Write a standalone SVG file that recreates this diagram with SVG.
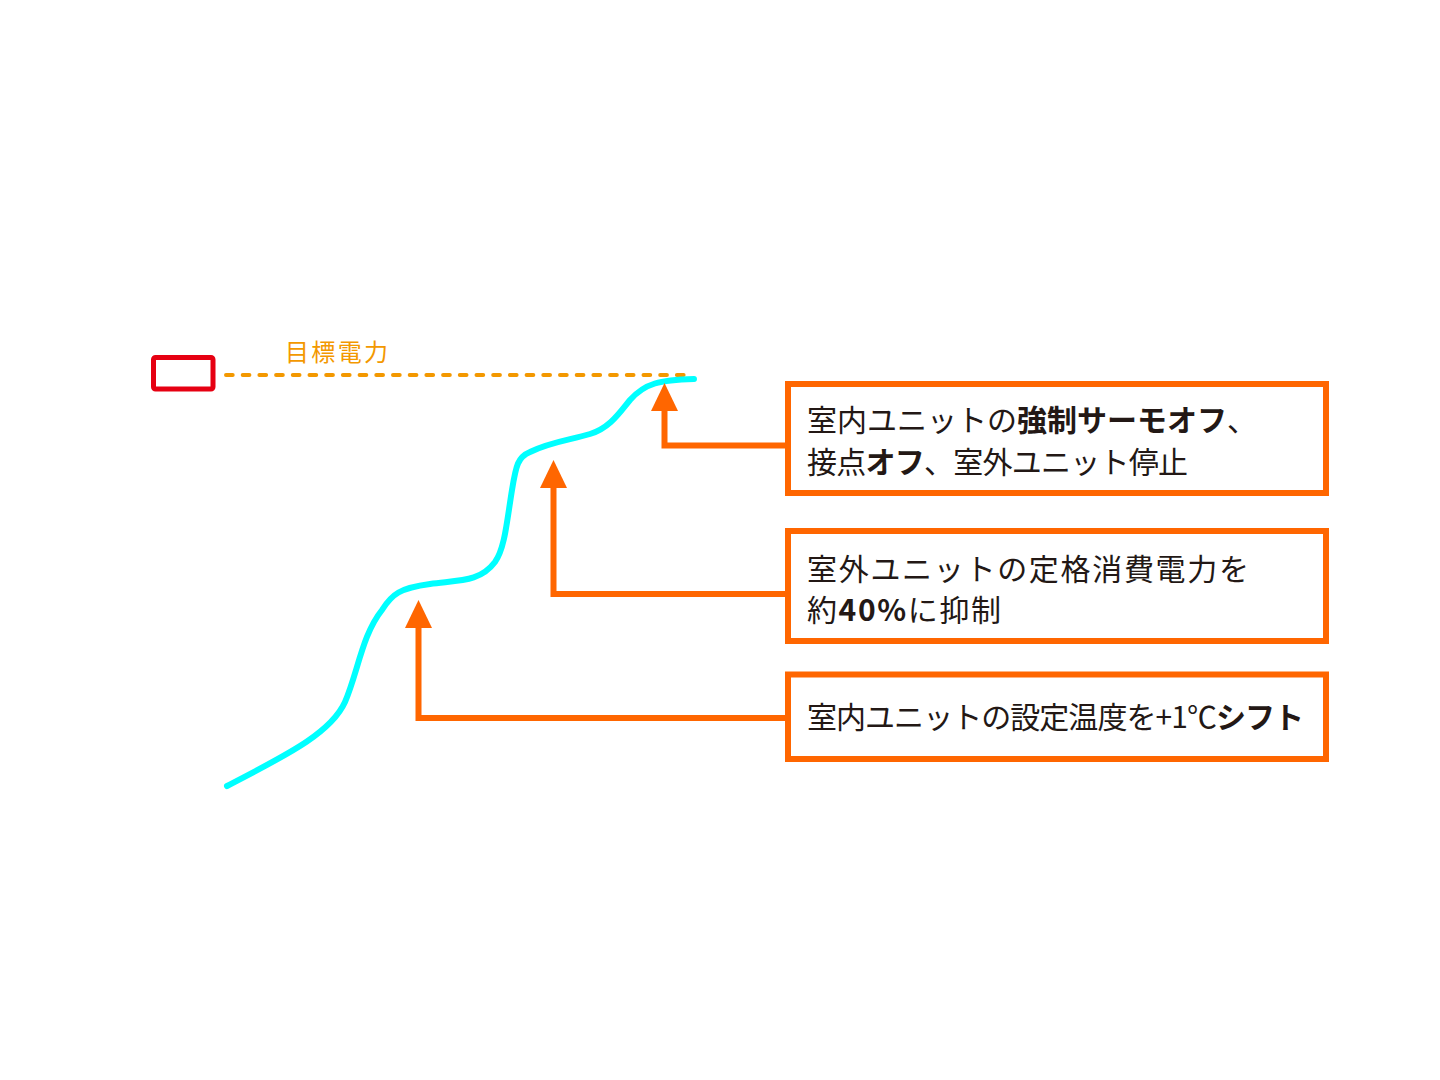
<svg xmlns="http://www.w3.org/2000/svg" width="1440" height="1080" viewBox="0 0 1440 1080">
<style>
.box{fill:#ffffff;stroke:#FF6600;stroke-width:6}
.t{font-family:"Noto Sans CJK JP","Noto Sans",sans-serif;font-size:30px;fill:#231815}
.b{font-weight:bold}
.conn{fill:none;stroke:#FF6600;stroke-width:6}
</style>
<defs>
<marker id="ah" markerUnits="userSpaceOnUse" markerWidth="29" markerHeight="28" refX="0" refY="13.5" orient="auto" viewBox="0 0 29 28">
<path d="M0,0 L28,13.5 L0,27 z" fill="#FF6600"/>
</marker>
</defs>
<rect width="1440" height="1080" fill="#ffffff"/>
<g id="target">
<rect x="153.5" y="357.5" width="59.5" height="31.5" rx="2" fill="none" stroke="#E60012" stroke-width="5"/>
<line x1="226" y1="375" x2="691" y2="375" stroke="#F39800" stroke-width="4" stroke-linecap="round" stroke-dasharray="6.7 10"/>
<text x="285" y="360.5" font-family="Noto Sans CJK JP, Noto Sans, sans-serif" font-size="24" fill="#F39800" textLength="103" lengthAdjust="spacing">目標電力</text>
</g>
<g id="curve">
<path d="M 227 786 C 280 758, 330 735, 345 702 C 358 672, 362 635, 382 610 C 392 594, 400 588, 430 584 C 460 580, 480 582, 495 562 C 505 548, 507 520, 512 490 C 516 465, 518 457, 530 452 C 550 442, 570 440, 590 434 C 610 428, 620 412, 630 400 C 645 383, 660 380, 694 379" fill="none" stroke="#00FFFF" stroke-width="6" stroke-linecap="round" stroke-linejoin="round"/>
</g>
<g id="connectors">
<path class="conn" d="M 786 445.5 H 664.5 V 411" marker-end="url(#ah)"/>
<path class="conn" d="M 786 594 H 553.5 V 488" marker-end="url(#ah)"/>
<path class="conn" d="M 786 718 H 418.5 V 628" marker-end="url(#ah)"/>
</g>
<g id="node1">
<rect class="box" x="788" y="384" width="538" height="109"/>
<text class="t" x="807" y="431" textLength="450" lengthAdjust="spacing">室内ユニットの<tspan class="b">強制サーモオフ</tspan>、</text>
<text class="t" x="807" y="473" textLength="381" lengthAdjust="spacing">接点<tspan class="b">オフ</tspan>、室外ユニット停止</text>
</g>
<g id="node2">
<rect class="box" x="788" y="531" width="538" height="110"/>
<text class="t" x="807" y="580" textLength="442" lengthAdjust="spacing">室外ユニットの定格消費電力を</text>
<text class="t" x="807" y="621" textLength="194" lengthAdjust="spacing">約<tspan class="b">40%</tspan>に抑制</text>
</g>
<g id="node3">
<rect class="box" x="788" y="674.5" width="538" height="84.5"/>
<text class="t" x="807" y="728" textLength="497" lengthAdjust="spacing">室内ユニットの設定温度を+1℃<tspan class="b">シフト</tspan></text>
</g>
</svg>
